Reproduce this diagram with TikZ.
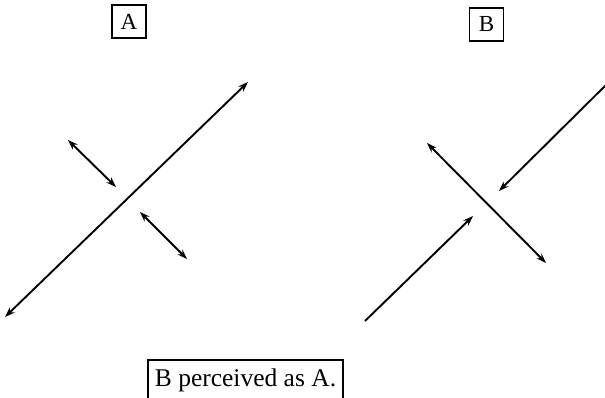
\documentclass[tikz,border=0pt]{standalone}
\usepackage{fontspec}
\setmainfont{Liberation Serif}
\usetikzlibrary{arrows.meta}

\begin{document}
\begin{tikzpicture}[
    x=1pt, y=-1pt,
    tag/.style={rectangle, draw, line width=1.7pt, minimum width=34pt, minimum height=33pt, inner sep=2pt, font=\fontsize{23}{26}\selectfont},
    caption/.style={rectangle, draw, line width=1.7pt, minimum width=195pt, minimum height=40pt, inner sep=2pt, font=\fontsize{25.5}{28}\selectfont},
    arrow/.style={-{Stealth[length=10pt, width=7pt]}, line width=1.9pt},
    twoway/.style={{Stealth[length=10pt, width=7pt]}-{Stealth[length=10pt, width=7pt]}, line width=1.9pt}
]
\useasboundingbox (0,0) rectangle (605,398);

% Labels
\node[tag] (tagA) at (129,21.5) {A};
\node[tag] (tagB) at (486.5,24.5) {B};
\node[caption] (note) at (245.5,380) {B perceived as A.};

% Panel A
\coordinate (longA1) at (5,317);
\coordinate (longA2) at (248,82);
\coordinate (upA1) at (68,140);
\coordinate (upA2) at (116,187);
\coordinate (downA1) at (140,212);
\coordinate (downA2) at (187,259);

% Panel B
\coordinate (topB1) at (608,83);
\coordinate (topB2) at (499,191);
\coordinate (lowB1) at (365,321);
\coordinate (lowB2) at (473,216);
\coordinate (crossB1) at (427,143);
\coordinate (crossB2) at (546,263);

% Arrows
\draw[twoway] (longA1) -- (longA2);
\draw[twoway] (upA1) -- (upA2);
\draw[twoway] (downA1) -- (downA2);
\draw[arrow] (topB1) -- (topB2);
\draw[arrow] (lowB1) -- (lowB2);
\draw[twoway] (crossB1) -- (crossB2);

\end{tikzpicture}
\end{document}
